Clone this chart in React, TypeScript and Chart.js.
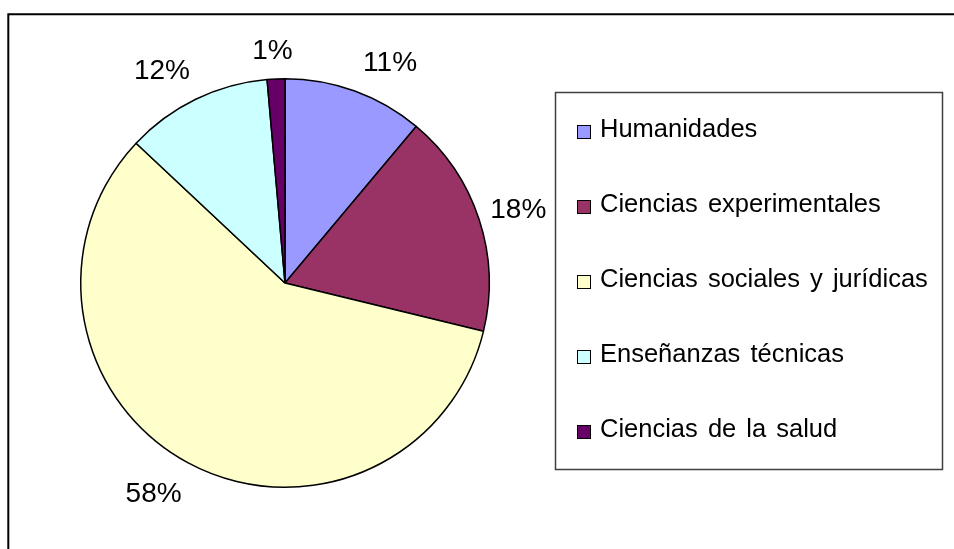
import React, { useEffect, useRef } from "react";
import { Chart, registerables } from "chart.js";

Chart.register(...registerables);

const categories = [
  "Humanidades",
  "Ciencias experimentales",
  "Ciencias sociales y jurídicas",
  "Enseñanzas técnicas",
  "Ciencias de la salud",
];
const shares = [11.1, 17.7, 58.2, 11.6, 1.4];
const percentLabels = ["11%", "18%", "58%", "12%", "1%"];
const sliceColors = ["#9999FF", "#993366", "#FFFFCC", "#CCFFFF", "#660066"];

// style: small per-label adjustments mimicking the original label placement
const labelNudges: [number, number][] = [
  [23, 4],
  [5, 0],
  [-17, -2],
  [-18, 2],
  [-2, 6],
];

const FONT = '"Liberation Sans", Arial, sans-serif';

const decoPlugin = {
  id: "deco",
  beforeDraw(chart: any) {
    const ctx = chart.ctx as CanvasRenderingContext2D;
    ctx.save();
    ctx.fillStyle = "#ffffff";
    ctx.fillRect(0, 0, chart.width, chart.height);
    // outer chart frame (right and bottom edges fall outside the picture)
    ctx.strokeStyle = "#000000";
    ctx.lineWidth = 2;
    ctx.beginPath();
    ctx.moveTo(8.3, chart.height + 10);
    ctx.lineTo(8.3, 14.3);
    ctx.lineTo(chart.width + 10, 14.3);
    ctx.stroke();
    ctx.restore();
  },
  afterDatasetsDraw(chart: any) {
    const ctx = chart.ctx as CanvasRenderingContext2D;
    const meta = chart.getDatasetMeta(0);
    ctx.save();
    // percentage labels
    const pSize = 28;
    ctx.font = `${pSize}px ${FONT}`;
    ctx.fillStyle = "#000000";
    ctx.textAlign = "center";
    ctx.textBaseline = "alphabetic";
    meta.data.forEach((arc: any, i: number) => {
      const p = arc.getProps(["x", "y", "startAngle", "endAngle", "outerRadius"], true);
      const mid = (p.startAngle + p.endAngle) / 2;
      const r = p.outerRadius + 36;
      const cx = p.x + Math.cos(mid) * r + labelNudges[i][0];
      const cy = p.y + Math.sin(mid) * r + labelNudges[i][1];
      ctx.fillText(percentLabels[i], cx, cy + 0.358 * pSize);
    });

    // legend box
    const bx = 555.5, by = 92.5, bw = 387, bh = 377;
    ctx.fillStyle = "#ffffff";
    ctx.fillRect(bx, by, bw, bh);
    ctx.strokeStyle = "#404040";
    ctx.lineWidth = 1.5;
    ctx.strokeRect(bx, by, bw, bh);

    const lSize = 25.5;
    ctx.font = `${lSize}px ${FONT}`;
    ctx.textAlign = "left";
    try {
      (ctx as any).wordSpacing = "3px";
    } catch (e) {
      /* ignore */
    }
    const firstBaseline = 137;
    const step = 75;
    categories.forEach((name, i) => {
      const base = firstBaseline + i * step;
      ctx.fillStyle = sliceColors[i];
      ctx.fillRect(577, base - 12, 13, 13);
      ctx.strokeStyle = "#000000";
      ctx.lineWidth = 1;
      ctx.strokeRect(577.5, base - 11.5, 13, 13);
      ctx.fillStyle = "#000000";
      ctx.fillText(name, 600, base);
    });
    (ctx as any).wordSpacing = "0px";
    ctx.restore();
  },
};

export default function App() {
  const canvasRef = useRef<HTMLCanvasElement | null>(null);

  useEffect(() => {
    if (!canvasRef.current) return;
    const chart = new Chart(canvasRef.current, {
      type: "pie",
      data: {
        labels: categories,
        datasets: [
          {
            data: shares,
            backgroundColor: sliceColors,
            borderColor: "#000000",
            borderWidth: 1.5,
          },
        ],
      },
      options: {
        animation: false,
        responsive: false,
        devicePixelRatio: 1,
        rotation: 0,
        layout: { padding: { left: 80, top: 78, right: 464, bottom: 61 } },
        plugins: {
          legend: { display: false },
          tooltip: { enabled: false },
          title: { display: false },
        },
      },
      plugins: [decoPlugin],
    });
    return () => chart.destroy();
  }, []);

  return (
    <div style={{ position: "fixed", left: 0, top: 0, width: 954, height: 549, background: "#fff" }}>
      <canvas ref={canvasRef} width={954} height={549} style={{ display: "block", width: 954, height: 549 }} />
    </div>
  );
}
